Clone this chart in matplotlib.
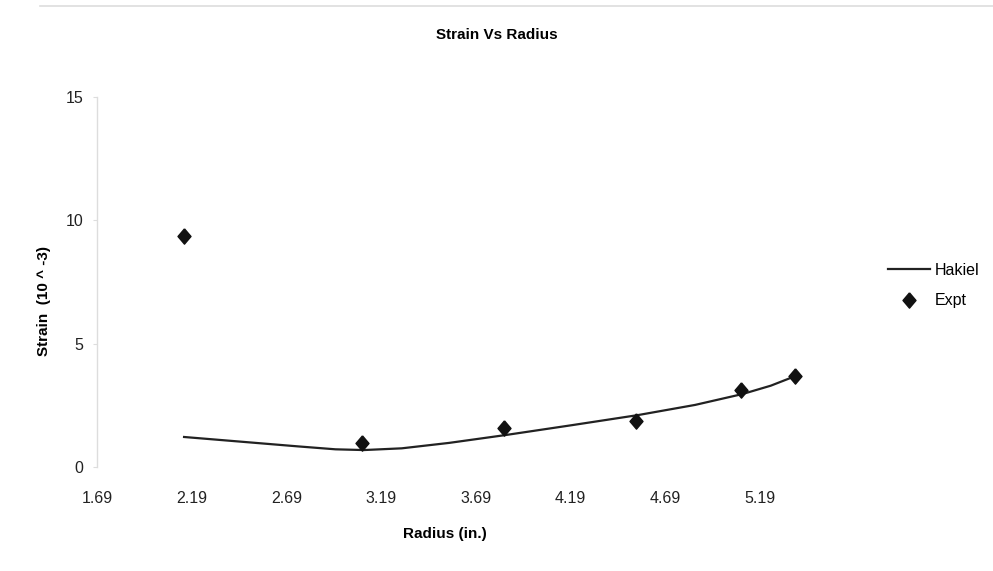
import matplotlib
matplotlib.use("Agg")
import matplotlib.pyplot as plt
from matplotlib.lines import Line2D

expt_r = [2.15, 3.09, 3.84, 4.54, 5.09, 5.38]
expt_strain = [9.36, 0.96, 1.59, 1.86, 3.12, 3.69]

# Hakiel model curve, read at several radii along the drawn line
hakiel_r = [2.15, 2.45, 2.75, 2.95, 3.10, 3.30, 3.55, 3.85, 4.20, 4.55, 4.85, 5.10, 5.25, 5.38]
hakiel_strain = [1.22, 1.03, 0.84, 0.72, 0.69, 0.76, 0.98, 1.30, 1.70, 2.11, 2.52, 2.96, 3.30, 3.69]

xticks = [1.69, 2.19, 2.69, 3.19, 3.69, 4.19, 4.69, 5.19]
yticks = [0, 5, 10, 15]

plt.rcParams['font.family'] = ['Liberation Sans', 'DejaVu Sans']

fig = plt.figure(figsize=(9.93, 5.71), dpi=100)
ax = fig.add_axes([0.0977, 0.182, 0.73, 0.648])

diamond = [(0, 1), (0.85, 0), (0, -1), (-0.85, 0), (0, 1)]

ax.plot(hakiel_r, hakiel_strain, color='#222222', lw=1.6, label='Hakiel')
ax.plot(expt_r, expt_strain, ls='none', marker=diamond, color='#111111',
        markersize=11, label='Expt')

ax.set_xlim(1.69, 5.52)
ax.set_ylim(0, 15)
ax.set_xticks(xticks)
ax.set_xticklabels(['%.2f' % v for v in xticks])
ax.set_yticks(yticks)

for s in ['top', 'right', 'bottom']:
    ax.spines[s].set_visible(False)
ax.spines['left'].set_color('#dddddd')
ax.spines['left'].set_linewidth(1.0)
ax.tick_params(axis='y', length=3, color='#dddddd', labelsize=11.5,
               labelcolor='#222222', pad=7)
ax.tick_params(axis='x', length=0, labelsize=11.5, labelcolor='#222222', pad=17)

ax.set_xlabel('Radius (in.)', fontsize=11, fontweight='bold')
ax.xaxis.set_label_coords(0.48, -0.163)
ax.set_ylabel('Strain  (10 ^ -3)', fontsize=11, fontweight='bold')
ax.yaxis.set_label_coords(-0.063, 0.45)

fig.text(0.5, 0.938, 'Strain Vs Radius', ha='center', va='center',
         fontsize=11, fontweight='bold')

fig.legend(loc='center left', bbox_to_anchor=(0.88, 0.50), frameon=False,
           fontsize=11.5, handlelength=2.6, handletextpad=0.3, labelspacing=1.0)

# faint scan line along the top edge
fig.add_artist(Line2D([0.04, 1.0], [0.99, 0.99], color='#dddddd', lw=1.2))

fig.savefig('out.png', dpi=100, facecolor='white')
